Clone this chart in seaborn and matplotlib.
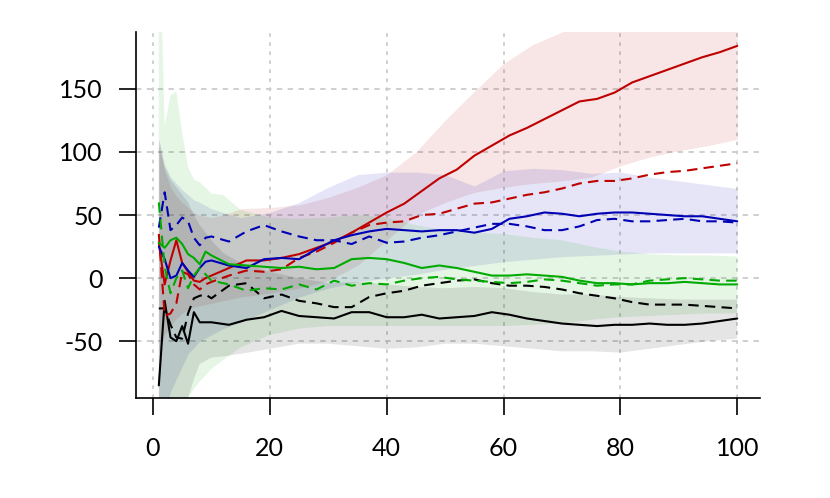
import seaborn as sns
import matplotlib.pyplot as plt
import pandas as pd

# sample positions for the lines
x_line = [1, 2, 3, 4, 5, 6, 7, 8, 9, 10] + list(range(13, 101, 3))

black_solid = [-85, -18, -47, -50, -38, -52, -27, -35, -35, -35,
               -37, -33, -31, -26, -30, -31, -32, -27, -27, -31,
               -31, -29, -32, -31, -30, -27, -29, -32, -34, -36,
               -37, -38, -37, -37, -36, -37, -37, -36, -34, -32]
black_dashed = [-24, -24, -37, -47, -48, -28, -16, -14, -13, -16,
                -6, -4, -16, -13, -18, -20, -23, -23, -15, -12,
                -10, -6, -4, -2, -1, -4, -6, -6, -7, -9,
                -12, -14, -16, -19, -21, -21, -21, -22, -23, -24]
red_solid = [28, -5, 14, 30, 12, 5, -2, -3, 0, 2,
             8, 14, 14, 16, 19, 24, 29, 36, 44, 52,
             59, 69, 79, 86, 97, 105, 113, 119, 126, 133,
             140, 142, 147, 155, 160, 165, 170, 175, 179, 184]
red_dashed = [35, -30, -28, -20, 5, 3, -5, -9, -5, -3,
              2, 6, 5, 7, 16, 21, 28, 36, 42, 44,
              45, 50, 51, 55, 59, 60, 63, 66, 68, 71,
              75, 77, 77, 79, 82, 84, 85, 87, 89, 91]
blue_solid = [25, 15, 0, 2, 12, 6, 1, 8, 13, 14,
              10, 8, 15, 16, 15, 23, 30, 34, 37, 39,
              38, 37, 38, 38, 36, 39, 47, 49, 52, 51,
              49, 51, 52, 52, 51, 50, 49, 49, 47, 45]
blue_dashed = [40, 68, 38, 42, 48, 45, 32, 26, 32, 33,
               29, 37, 42, 37, 33, 30, 30, 27, 33, 28,
               29, 32, 34, 37, 40, 43, 43, 41, 38, 38,
               41, 46, 47, 45, 45, 46, 47, 45, 45, 44]
green_solid = [28, 24, 30, 32, 27, 19, 16, 11, 21, 18,
               11, 10, 9, 8, 9, 7, 8, 15, 16, 15,
               12, 8, 10, 8, 5, 2, 2, 3, 2, 1,
               -2, -4, -4, -5, -4, -4, -3, -4, -5, -5]
green_dashed = [60, 9, -12, 0, 6, -8, 2, 8, 3, -2,
                -5, -10, -8, -9, -5, -9, -2, -6, -4, -5,
                -2, 0, 1, -1, -2, -3, -4, -3, -1, -2,
                -4, -6, -5, -5, -2, -1, 0, -1, -2, -2]

# shaded bands
band_x = [1, 2, 3, 4, 5, 6, 7, 8, 10, 12, 15, 20, 25, 30, 35, 40, 45, 50,
          55, 60, 65, 70, 75, 80, 85, 90, 95, 100]
grey_lo = [-300, -220, -160, -130, -110, -95, -80, -68, -63, -62, -60, -56, -52, -52,
           -54, -56, -55, -52, -52, -54, -56, -58, -58, -59, -56, -53, -50, -48]
grey_hi = [105, 88, 78, 72, 66, 60, 50, 42, 30, 20, 12, 5, 0, -4,
           -3, -5, -7, -8, -7, -8, -11, -13, -13, -15, -16, -17, -17, -17]
green_lo = [-250, -180, -140, -120, -105, -95, -88, -82, -72, -65, -55, -45, -40, -38,
            -38, -38, -38, -38, -38, -38, -37, -36, -33, -31, -30, -29, -28, -28]
green_hi = [300, 120, 145, 148, 115, 88, 78, 76, 67, 66, 54, 48, 47, 48,
            50, 48, 42, 38, 36, 35, 32, 30, 25, 21, 19, 18, 18, 17]
blue_lo = [-150, -110, -90, -80, -70, -60, -55, -50, -45, -40, -35, -25, -15, -8,
           -3, 0, 3, 7, 10, 13, 15, 17, 18, 19, 20, 20, 20, 20]
blue_hi = [110, 90, 80, 75, 70, 66, 62, 60, 55, 52, 48, 52, 60, 72,
           82, 84, 84, 82, 73, 85, 87, 86, 83, 84, 80, 77, 74, 71]
red_lo = [-60, -45, -38, -32, -28, -25, -23, -22, -20, -18, -15, -12, -8, -2,
          10, 30, 50, 60, 68, 72, 75, 77, 80, 89, 96, 101, 105, 110]
red_hi = [110, 85, 72, 65, 60, 56, 52, 50, 48, 50, 55, 56, 58, 64,
          72, 82, 100, 125, 148, 170, 185, 195, 210, 225, 235, 245, 252, 258]

colors = {'black': '#000000', 'red': '#bf0000', 'blue': '#0000b4', 'green': '#00aa00'}

sns.set_style('ticks')
plt.rcParams['font.family'] = ['Lato', 'DejaVu Sans']
plt.rcParams['axes.unicode_minus'] = False

fig = plt.figure(figsize=(8.3, 4.98), dpi=100)
ax = fig.add_axes([0.1639, 0.2008, 0.7518, 0.7349])

bands = [('red', red_lo, red_hi), ('blue', blue_lo, blue_hi),
         ('green', green_lo, green_hi), ('black', grey_lo, grey_hi)]
for name, lo, hi in bands:
    ax.fill_between(band_x, lo, hi, color=colors[name], alpha=0.1, lw=0)

series = {
    ('black', 'mean'): black_solid, ('black', 'median'): black_dashed,
    ('red', 'mean'): red_solid, ('red', 'median'): red_dashed,
    ('blue', 'mean'): blue_solid, ('blue', 'median'): blue_dashed,
    ('green', 'mean'): green_solid, ('green', 'median'): green_dashed,
}
rows = []
for (name, stat), vals in series.items():
    for xv, yv in zip(x_line, vals):
        rows.append({'x': xv, 'y': yv, 'group': name, 'stat': stat})
df = pd.DataFrame(rows)

sns.lineplot(data=df, x='x', y='y', hue='group', style='stat',
             palette=colors, dashes={'mean': '', 'median': (5, 3)},
             hue_order=['black', 'red', 'blue', 'green'],
             linewidth=1.5, legend=False, ax=ax)

ax.set_xlim(-2.9, 103.9)
ax.set_ylim(-95, 195)
ax.set_xticks([0, 20, 40, 60, 80, 100])
ax.set_yticks([-50, 0, 50, 100, 150])
ax.set_xlabel('')
ax.set_ylabel('')
ax.xaxis.grid(True, linestyle=(0, (2, 3)), color='#cccccc', lw=1.3)
ax.yaxis.grid(True, linestyle=(0, (3, 3)), color='#cccccc', lw=1.3)
ax.set_axisbelow(True)
sns.despine(ax=ax)
for s in ['left', 'bottom']:
    ax.spines[s].set_linewidth(1.2)
    ax.spines[s].set_color('black')
ax.tick_params(axis='both', direction='out', length=12, width=1.2,
               color='black', labelcolor='black', labelsize=18)
ax.tick_params(axis='x', pad=16)
ax.tick_params(axis='y', pad=12)

fig.savefig('out.png', dpi=100)
